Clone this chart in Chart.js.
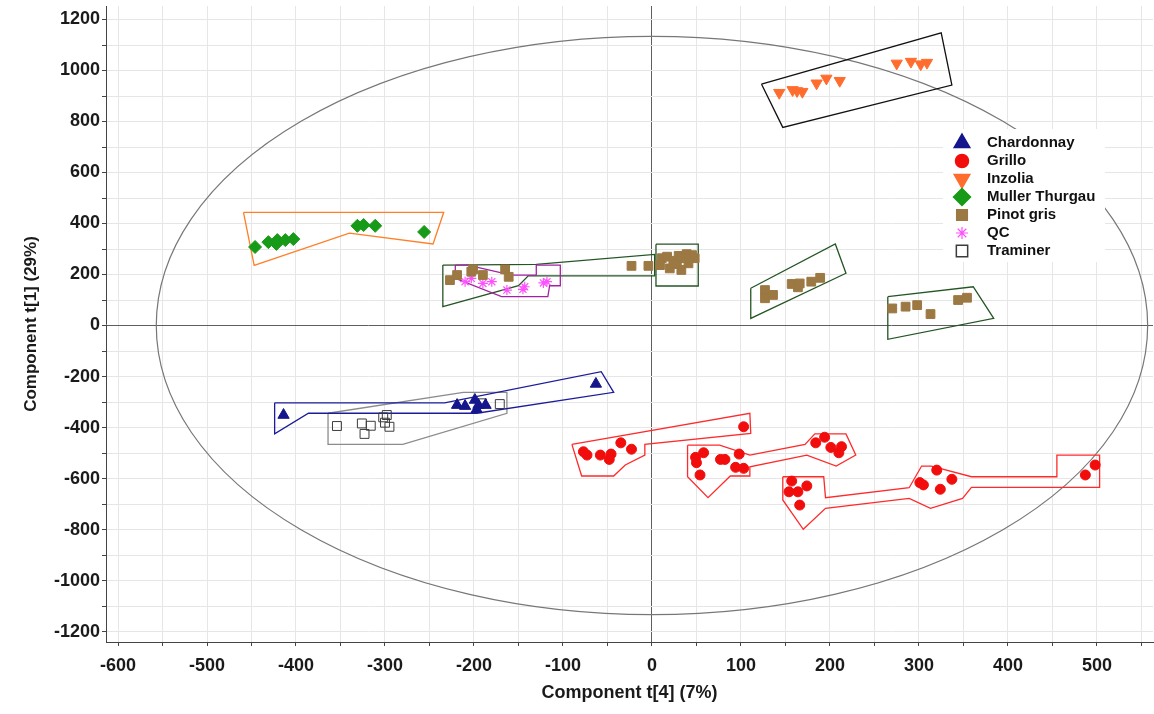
<!DOCTYPE html>
<html>
<head>
<meta charset="utf-8">
<script src="https://cdn.jsdelivr.net/npm/chart.js@4.4.1/dist/chart.umd.min.js"></script>
<style>
  html, body { margin: 0; padding: 0; background: #fff; }
  #wrap { width: 1154px; height: 714px; position: relative; }
</style>
</head>
<body>
<div id="wrap"><canvas id="pcaChart"></canvas></div>
<script>
// scores, [t4, t1]
const chardonnay = [[-414,-351],[-219,-312],[-210,-316],[-199,-292],[-195,-312],[-197,-329],[-187,-312],[-63,-229]];
const grillo = [
  [-77,-495],[-73,-508],[-58,-508],[-48,-525],[-46,-504],[-35,-460],[-23,-485],[103,-397],
  [49,-517],[50,-538],[58,-499],[54,-586],[77,-525],[82,-525],[98,-504],[94,-556],[103,-560],
  [184,-460],[194,-438],[201,-478],[213,-475],[210,-499],
  [157,-610],[154,-652],[164,-652],[174,-629],[166,-704],
  [301,-616],[305,-625],[320,-567],[324,-642],[337,-603],[487,-586],[498,-547]
];
const inzolia = [[143,913],[158,924],[163,920],[169,917],[185,950],[196,969],[211,960],[275,1028],[291,1035],[302,1025],[309,1031]];
const mullerThurgau = [[-446,308],[-431,327],[-422,320],[-421,335],[-412,335],[-403,339],[-331,391],[-324,394],[-311,391],[-256,367]];
const pinotGris = [
  [-227,178],[-219,198],[-203,211],[-201,220],[-190,198],[-165,220],[-161,191],[-23,234],[-4,234],
  [11,264],[17,270],[24,254],[30,273],[33,218],[39,280],[45,276],[48,264],[20,224],[28,241],[41,244],[9,237],[37,264],
  [127,139],[127,107],[136,120],[157,163],[164,150],[166,165],[179,172],[189,187],
  [270,67],[285,74],[298,80],[313,45],[344,100],[354,109]
];
const qc = [[-210,172],[-203,185],[-190,165],[-180,172],[-163,139],[-145,142],[-143,152],[-118,172],[-122,167]];
const traminer = [[-354,-394],[-326,-384],[-316,-393],[-323,-425],[-302,-360],[-298,-351],[-300,-381],[-295,-397],[-171,-308],[-191,-305]];

// hull outlines drawn round the groups
const chardonnayHull = [[-424,-303],[-233,-303],[-57,-181],[-43,-262],[-197,-344],[-386,-344],[-424,-425]];
const traminerHull = [[-364,-344],[-212,-262],[-163,-262],[-163,-344],[-280,-466],[-364,-466]];
const mullerHull = [[-459,444],[-234,444],[-246,320],[-340,362],[-447,236]];
const inzoliaHull = [[123,947],[325,1148],[337,943],[147,777]];
const qcHull = [[-221,237],[-207,237],[-158,198],[-130,198],[-130,237],[-103,237],[-103,156],[-115,156],[-117,113],[-169,113],[-221,185]];
const pinotHullA = [[-235,237],[-130,240],[3,279],[3,195],[-139,195],[-150,156],[-235,74]];
const pinotHullB = [[4.5,319],[52,319],[52,155],[4.5,155]];
const pinotHullC = [[111,146],[206,320],[218,205],[111,28]];
const pinotHullD = [[265,113],[361,152],[384,28],[265,-54]];
const grilloHull1 = [[-90,-466],[110,-344],[111,-423],[-8,-466],[-8,-508],[-30,-547],[-43,-590],[-79,-590]];
const grilloHull2 = [[40,-469],[76,-469],[110,-508],[172,-466],[183,-425],[218,-425],[229,-508],[207,-551],[174,-508],[110,-554],[110,-590],[88,-590],[63,-675],[40,-593]];
const grilloHull3 = [[147,-593],[193,-593],[195,-675],[289,-636],[303,-551],[314,-551],[359,-593],[455,-593],[455,-508],[503,-508],[503,-635],[359,-635],[349,-678],[313,-717],[289,-678],[195,-717],[170,-799],[147,-684]];

// Hotelling ellipse semi axes
const ellipseA = 557;
const ellipseB = 1134;

const xLabelled = [-600,-500,-400,-300,-200,-100,0,100,200,300,400,500];
const yLabelled = [-1200,-1000,-800,-600,-400,-200,0,200,400,600,800,1000,1200];
const xTickValues = [];
for (let v = -600; v <= 550; v += 50) xTickValues.push(v);
const yTickValues = [];
for (let v = -1200; v <= 1200; v += 100) yTickValues.push(v);

const series = [
  { label: 'Chardonnay', data: chardonnay, style: 'triangle', rot: 0, fill: '#15158c', line: '#15158c', r: 6.5, lr: 9 },
  { label: 'Grillo', data: grillo, style: 'circle', rot: 0, fill: '#f20d0d', line: '#f20d0d', r: 5, lr: 6.5 },
  { label: 'Inzolia', data: inzolia, style: 'triangle', rot: 180, fill: '#ff6d2e', line: '#ff6d2e', r: 6.5, lr: 9 },
  { label: 'Muller Thurgau', data: mullerThurgau, style: 'rectRot', rot: 0, fill: '#179a17', line: '#179a17', r: 6.5, lr: 8.5 },
  { label: 'Pinot gris', data: pinotGris, style: 'rect', rot: 0, fill: '#9c7843', line: '#9c7843', r: 6.2, lr: 7.5 },
  { label: 'QC', data: qc, style: 'star', rot: 0, fill: '#ff50ff', line: '#ff50ff', r: 5, lr: 6 },
  { label: 'Traminer', data: traminer, style: 'rect', rot: 0, fill: 'rgba(0,0,0,0)', line: '#3c3c3c', r: 6.3, lr: 8 }
];

const hulls = [
  { pts: chardonnayHull, color: '#1c1c9a' },
  { pts: traminerHull, color: '#8c8c8c' },
  { pts: mullerHull, color: '#ff7f27' },
  { pts: inzoliaHull, color: '#111111' },
  { pts: qcHull, color: '#a322a3' },
  { pts: pinotHullA, color: '#245524' },
  { pts: pinotHullB, color: '#245524' },
  { pts: pinotHullC, color: '#245524' },
  { pts: pinotHullD, color: '#245524' },
  { pts: grilloHull1, color: '#ff2a2a' },
  { pts: grilloHull2, color: '#ff2a2a' },
  { pts: grilloHull3, color: '#ff2a2a' }
];

const toXY = arr => arr.map(p => ({ x: p[0], y: p[1] }));

const datasets = [];
series.forEach(s => {
  datasets.push({
    type: 'scatter',
    label: s.label,
    data: toXY(s.data),
    pointStyle: s.style,
    rotation: s.rot,
    pointRadius: s.r,
    pointHoverRadius: s.r,
    backgroundColor: s.fill,
    borderColor: s.line,
    borderWidth: s.style === 'star' ? 1.2 : 1,
    order: 1
  });
});
hulls.forEach(h => {
  datasets.push({
    type: 'line',
    data: toXY(h.pts.concat([h.pts[0]])),
    borderColor: h.color,
    borderWidth: 1.3,
    pointRadius: 0,
    fill: false,
    tension: 0,
    order: 2
  });
});

const ellipsePlugin = {
  id: 'ellipse',
  beforeDatasetsDraw(chart) {
    const { ctx, chartArea, scales } = chart;
    const cx = scales.x.getPixelForValue(0);
    const cy = scales.y.getPixelForValue(0);
    const rx = scales.x.getPixelForValue(ellipseA) - cx;
    const ry = cy - scales.y.getPixelForValue(ellipseB);
    ctx.save();
    ctx.beginPath();
    ctx.rect(chartArea.left, chartArea.top, chartArea.right - chartArea.left, chartArea.bottom - chartArea.top);
    ctx.clip();
    ctx.beginPath();
    ctx.ellipse(cx, cy, rx, ry, 0, 0, Math.PI * 2);
    ctx.strokeStyle = '#777';
    ctx.lineWidth = 1.2;
    ctx.stroke();
    ctx.restore();
  }
};

const legendPlugin = {
  id: 'wineLegend',
  afterDraw(chart) {
    const ctx = chart.ctx;
    ctx.save();
    ctx.fillStyle = '#fff';
    ctx.fillRect(943, 129, 162, 133);
    series.forEach((s, i) => {
      const y = 143 + i * 18;
      ctx.fillStyle = s.fill;
      ctx.strokeStyle = s.line;
      ctx.lineWidth = s.style === 'star' ? 1.2 : 1.5;
      Chart.helpers.drawPoint(ctx, { pointStyle: s.style, radius: s.lr, rotation: s.rot, borderWidth: ctx.lineWidth }, 962, y);
      ctx.fillStyle = '#111';
      ctx.font = "bold 15px 'Liberation Sans', Arial, sans-serif";
      ctx.textBaseline = 'middle';
      ctx.textAlign = 'left';
      ctx.fillText(s.label, 987, y);
    });
    ctx.restore();
  }
};

Chart.defaults.font.family = "'Liberation Sans', Arial, sans-serif";

const gridColor = c => (c.tick && c.tick.value === 0) ? '#5e5e5e' : '#e6e6e6';

new Chart(document.getElementById('pcaChart'), {
  type: 'scatter',
  data: { datasets: datasets },
  options: {
    responsive: true,
    maintainAspectRatio: false,
    animation: false,
    layout: { autoPadding: false, padding: { top: 6, right: 1, left: 0, bottom: 0 } },
    plugins: {
      legend: { display: false },
      tooltip: { enabled: false }
    },
    scales: {
      x: {
        type: 'linear',
        position: 'bottom',
        min: -613.5,
        max: 563,
        afterBuildTicks: s => { s.ticks = xTickValues.map(v => ({ value: v })); },
        afterFit: s => { s.height = 72; s.paddingLeft = 0; s.paddingRight = 0; },
        grid: { color: gridColor, tickColor: '#444', tickLength: 4 },
        border: { display: true, color: '#444', width: 1 },
        ticks: {
          autoSkip: false, maxRotation: 0, minRotation: 0, padding: 9,
          color: '#1a1a1a', font: { size: 18, weight: 'bold' },
          callback: v => xLabelled.includes(v) ? String(v) : ''
        },
        title: {
          display: true, text: 'Component t[4] (7%)', color: '#1a1a1a',
          font: { size: 18, weight: 'bold' }, padding: { top: 0, bottom: 10 }
        }
      },
      y: {
        type: 'linear',
        min: -1241,
        max: 1253,
        afterBuildTicks: s => { s.ticks = yTickValues.map(v => ({ value: v })); },
        afterFit: s => { s.width = 106; s.paddingTop = 0; s.paddingBottom = 0; },
        grid: { color: gridColor, tickColor: '#444', tickLength: 4 },
        border: { display: true, color: '#444', width: 1 },
        ticks: {
          autoSkip: false, padding: 2,
          color: '#1a1a1a', font: { size: 18, weight: 'bold' },
          callback: v => yLabelled.includes(v) ? String(v) : ''
        },
        title: {
          display: true, text: 'Component t[1] (29%)', color: '#1a1a1a',
          font: { size: 17, weight: 'bold' }, padding: { top: 21, bottom: 0 }
        }
      }
    }
  },
  plugins: [ellipsePlugin, legendPlugin]
});
</script>
</body>
</html>
